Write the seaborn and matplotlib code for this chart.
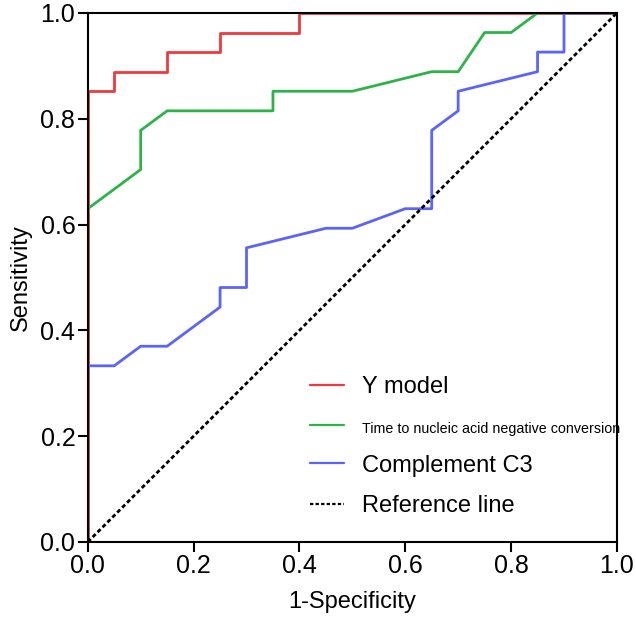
import matplotlib
matplotlib.use('Agg')
import matplotlib.pyplot as plt
from matplotlib import font_manager
import seaborn as sns
import pandas as pd

# ROC curve points (1-Specificity, Sensitivity)
ymodel_fpr = [0.0, 0.0, 0.05, 0.05, 0.15, 0.15, 0.25, 0.25, 0.40, 0.40, 1.0]
ymodel_tpr = [0.0, 0.852, 0.852, 0.889, 0.889, 0.926, 0.926, 0.963, 0.963, 1.0, 1.0]

time_fpr = [0.0, 0.0, 0.10, 0.10, 0.15, 0.35, 0.35, 0.50, 0.65, 0.70, 0.75, 0.80, 0.85, 1.0]
time_tpr = [0.0, 0.630, 0.704, 0.778, 0.815, 0.815, 0.852, 0.852, 0.889, 0.889, 0.963, 0.963, 1.0, 1.0]

c3_fpr = [0.0, 0.0, 0.05, 0.10, 0.15, 0.25, 0.25, 0.30, 0.30, 0.45, 0.50, 0.60, 0.65,
          0.65, 0.70, 0.70, 0.85, 0.85, 0.90, 0.90, 1.0]
c3_tpr = [0.0, 0.333, 0.333, 0.370, 0.370, 0.444, 0.481, 0.481, 0.556, 0.593, 0.593, 0.630, 0.630,
          0.778, 0.815, 0.852, 0.889, 0.926, 0.926, 1.0, 1.0]

ref_x = [0.0, 1.0]
ref_y = [0.0, 1.0]

labels = ['Y model', 'Time to nucleic acid negative conversion', 'Complement C3', 'Reference line']
colors = ['#EE3A3C', '#2EB34A', '#5A64FA', 'black']

sns.set_style('ticks')
plt.rcParams['font.family'] = ['Liberation Sans', 'DejaVu Sans']
plt.rcParams['text.color'] = 'black'
plt.rcParams['axes.labelcolor'] = 'black'
plt.rcParams['xtick.color'] = 'black'
plt.rcParams['ytick.color'] = 'black'

# narrow font for the long legend entry if there is one
names = set(f.name for f in font_manager.fontManager.ttflist)
if 'Liberation Sans Narrow' in names:
    narrow_family, narrow_size = 'Liberation Sans Narrow', 12.5
else:
    narrow_family, narrow_size = 'Liberation Sans', 10.3

fig = plt.figure(figsize=(6.36, 6.17), dpi=100)
ax = fig.add_axes([0.138, 0.1216, 0.832, 0.8574])

curves = [(ymodel_fpr, ymodel_tpr), (time_fpr, time_tpr), (c3_fpr, c3_tpr)]
for (fx, ty), lab, col in zip(curves, labels[:3], colors[:3]):
    df = pd.DataFrame({'fpr': fx, 'tpr': ty})
    sns.lineplot(data=df, x='fpr', y='tpr', sort=False, estimator=None,
                 color=col, linewidth=2.0, label=lab, ax=ax)

sns.lineplot(x=ref_x, y=ref_y, color=colors[3], linewidth=2.0, label=labels[3], ax=ax)
ax.lines[-1].set_linestyle((0, (1.5, 1.0)))

ax.set_xlim(0, 1)
ax.set_ylim(0, 1)
ax.set_xticks([0, 0.2, 0.4, 0.6, 0.8, 1.0])
ax.set_yticks([0, 0.2, 0.4, 0.6, 0.8, 1.0])
ax.set_xticklabels(['0.0', '0.2', '0.4', '0.6', '0.8', '1.0'])
ax.set_yticklabels(['0.0', '0.2', '0.4', '0.6', '0.8', '1.0'])
ax.tick_params(axis='both', labelsize=18, length=7, width=1.5, color='black',
               labelcolor='black', pad=2)
for s in ax.spines.values():
    s.set_visible(True)
    s.set_linewidth(1.5)
    s.set_color('black')

ax.set_xlabel('1-Specificity', fontsize=17, labelpad=9, color='black')
ax.set_ylabel('Sensitivity', fontsize=17, labelpad=6, color='black')

leg = ax.legend(loc='upper left', bbox_to_anchor=(0.42, 0.313), frameon=False,
                fontsize=17, handlelength=1.45, handletextpad=0.75,
                labelspacing=0.78, borderpad=0, borderaxespad=0)
for t in leg.get_texts():
    t.set_color('black')
leg.get_texts()[1].set_fontfamily([narrow_family, 'DejaVu Sans'])
leg.get_texts()[1].set_fontsize(narrow_size)
for h in leg.get_lines():
    h.set_linewidth(1.6)

fig.savefig('out.png', dpi=100)
